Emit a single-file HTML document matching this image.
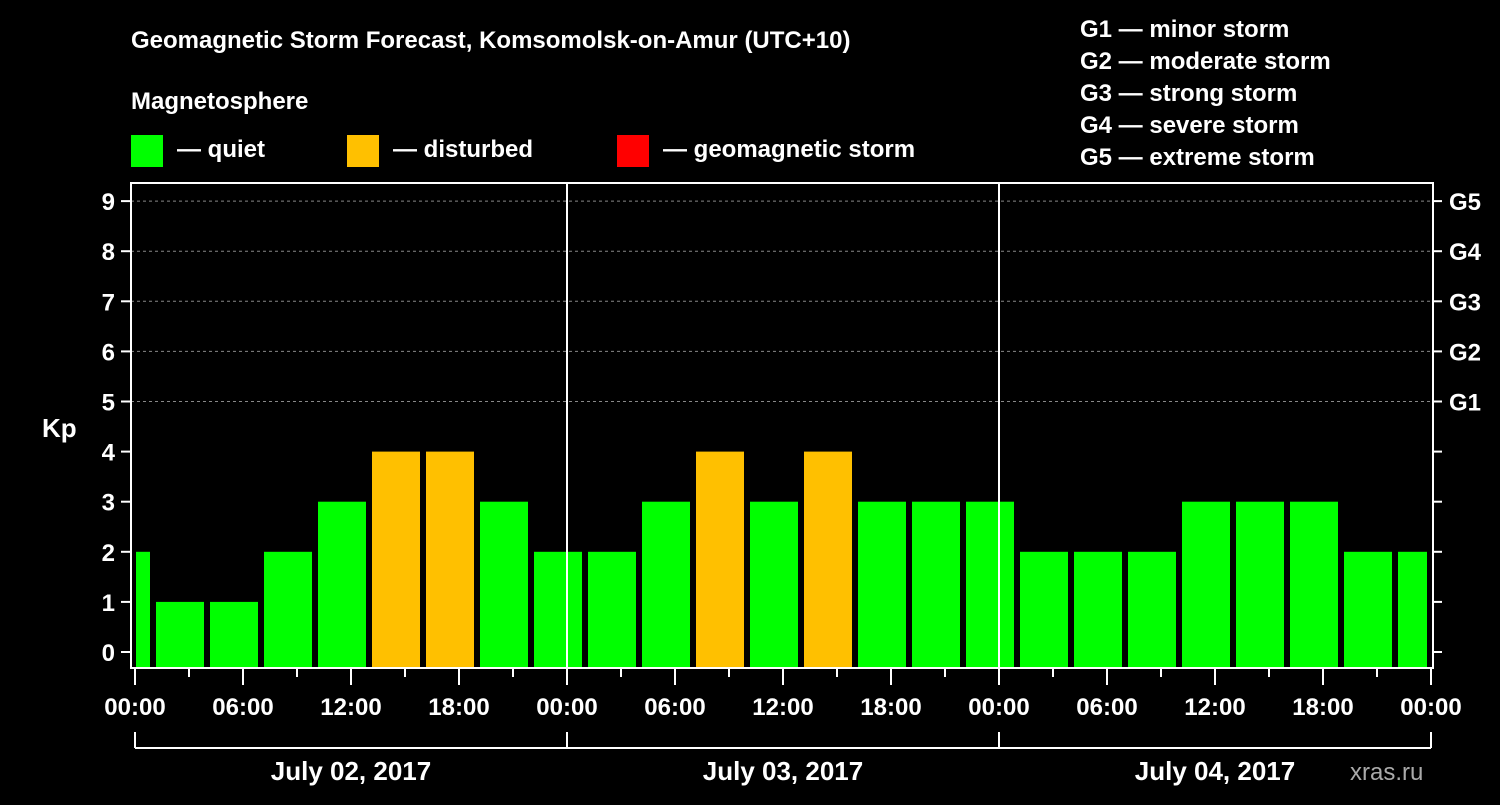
<!DOCTYPE html>
<html><head><meta charset="utf-8"><style>
body{margin:0;background:#000;width:1500px;height:800px;overflow:hidden}
svg text{font-family:"Liberation Sans",Arial,sans-serif;font-weight:bold;fill:#fff}
</style></head><body>
<svg id="c" width="1500" height="800">
<text x="131" y="48" font-size="24">Geomagnetic Storm Forecast, Komsomolsk-on-Amur (UTC+10)</text>
<text x="131" y="109" font-size="24">Magnetosphere</text>
<g><rect x="131" y="135" width="32" height="32" fill="#00ff00"/><text x="177" y="157" font-size="24">— quiet</text></g>
<g><rect x="347" y="135" width="32" height="32" fill="#ffc000"/><text x="393" y="157" font-size="24">— disturbed</text></g>
<g><rect x="617" y="135" width="32" height="32" fill="#ff0000"/><text x="663" y="157" font-size="24">— geomagnetic storm</text></g>
<g font-size="24">
<text x="1080" y="37">G1 — minor storm</text><text x="1080" y="69">G2 — moderate storm</text><text x="1080" y="101">G3 — strong storm</text><text x="1080" y="133">G4 — severe storm</text><text x="1080" y="165">G5 — extreme storm</text></g>
<text x="42" y="437" font-size="26">Kp</text>
<text x="1350" y="780" font-size="24" fill="#aaa" style="fill:#aaa;font-weight:normal">xras.ru</text>
<g id="g"></g>
</svg>
<script>
const kpValues=[2,1,1,2,3,4,4,3,2,2,3,4,3,4,3,3,3,2,2,2,3,3,3,2,2];
const startHour=-2;
const yTicks=[0,1,2,3,4,5,6,7,8,9];
const gLabels=["G1","G2","G3","G4","G5"];
const xTickLabels=["00:00","06:00","12:00","18:00","00:00","06:00","12:00","18:00","00:00","06:00","12:00","18:00","00:00"];
const dayLabels=["July 02, 2017","July 03, 2017","July 04, 2017"];
const NS="http://www.w3.org/2000/svg";
const g=document.getElementById('g');
const L=131,R=1433,T=183,B=668;
const x=h=>135+h*18;
const y=v=>652-v*50.1;
function mk(t,a,p){const e=document.createElementNS(NS,t);for(const k in a)e.setAttribute(k,a[k]);(p||g).appendChild(e);return e;}
// grid
for(let v=5;v<=9;v++){const e=mk('line',{x1:L,x2:R,y1:y(v),y2:y(v),stroke:'#888','stroke-dasharray':'3,3'});

}
// bars
kpValues.forEach((v,i)=>{const h=startHour+i*3;let x0=Math.max(x(h)+3,136),x1=Math.min(x(h+3)-3,1427);
const e=mk('rect',{x:x0,y:y(v),width:x1-x0,height:B-y(v),fill:v>=5?'#ff0000':v>=4?'#ffc000':'#00ff00'});

});
// day separators
[24,48].forEach(h=>{const e=mk('line',{x1:x(h),x2:x(h),y1:T,y2:B,stroke:'#fff','stroke-width':2});

});
// frame
const f=mk('rect',{x:L,y:T,width:R-L,height:B-T,fill:'none',stroke:'#fff','stroke-width':2});


// y ticks
yTicks.forEach(v=>{mk('line',{x1:121,x2:L,y1:y(v),y2:y(v),stroke:'#fff','stroke-width':2});
mk('line',{x1:R,x2:R+9,y1:y(v),y2:y(v),stroke:'#fff','stroke-width':2});
const t=mk('text',{x:115,y:y(v)+9,'font-size':24,'text-anchor':'end'});t.textContent=v;

});
gLabels.forEach((s,i)=>{const t=mk('text',{x:1449,y:y(5+i)+9,'font-size':24});t.textContent=s;

});
// x ticks
for(let h=0;h<=72;h+=3){const major=h%6==0;mk('line',{x1:x(h),x2:x(h),y1:B,y2:B+(major?17:9),stroke:'#fff','stroke-width':2});}
xTickLabels.forEach((s,i)=>{const t=mk('text',{x:x(i*6),y:715,'font-size':24,'text-anchor':'middle'});t.textContent=s;

});
// day bracket
mk('line',{x1:x(0),x2:x(72),y1:748,y2:748,stroke:'#fff','stroke-width':2});
[0,24,48,72].forEach(h=>mk('line',{x1:x(h),x2:x(h),y1:732,y2:748,stroke:'#fff','stroke-width':2}));
dayLabels.forEach((s,i)=>{const t=mk('text',{x:x(i*24+12),y:780,'font-size':26,'text-anchor':'middle'});t.textContent=s;

});
</script>
</body></html>
